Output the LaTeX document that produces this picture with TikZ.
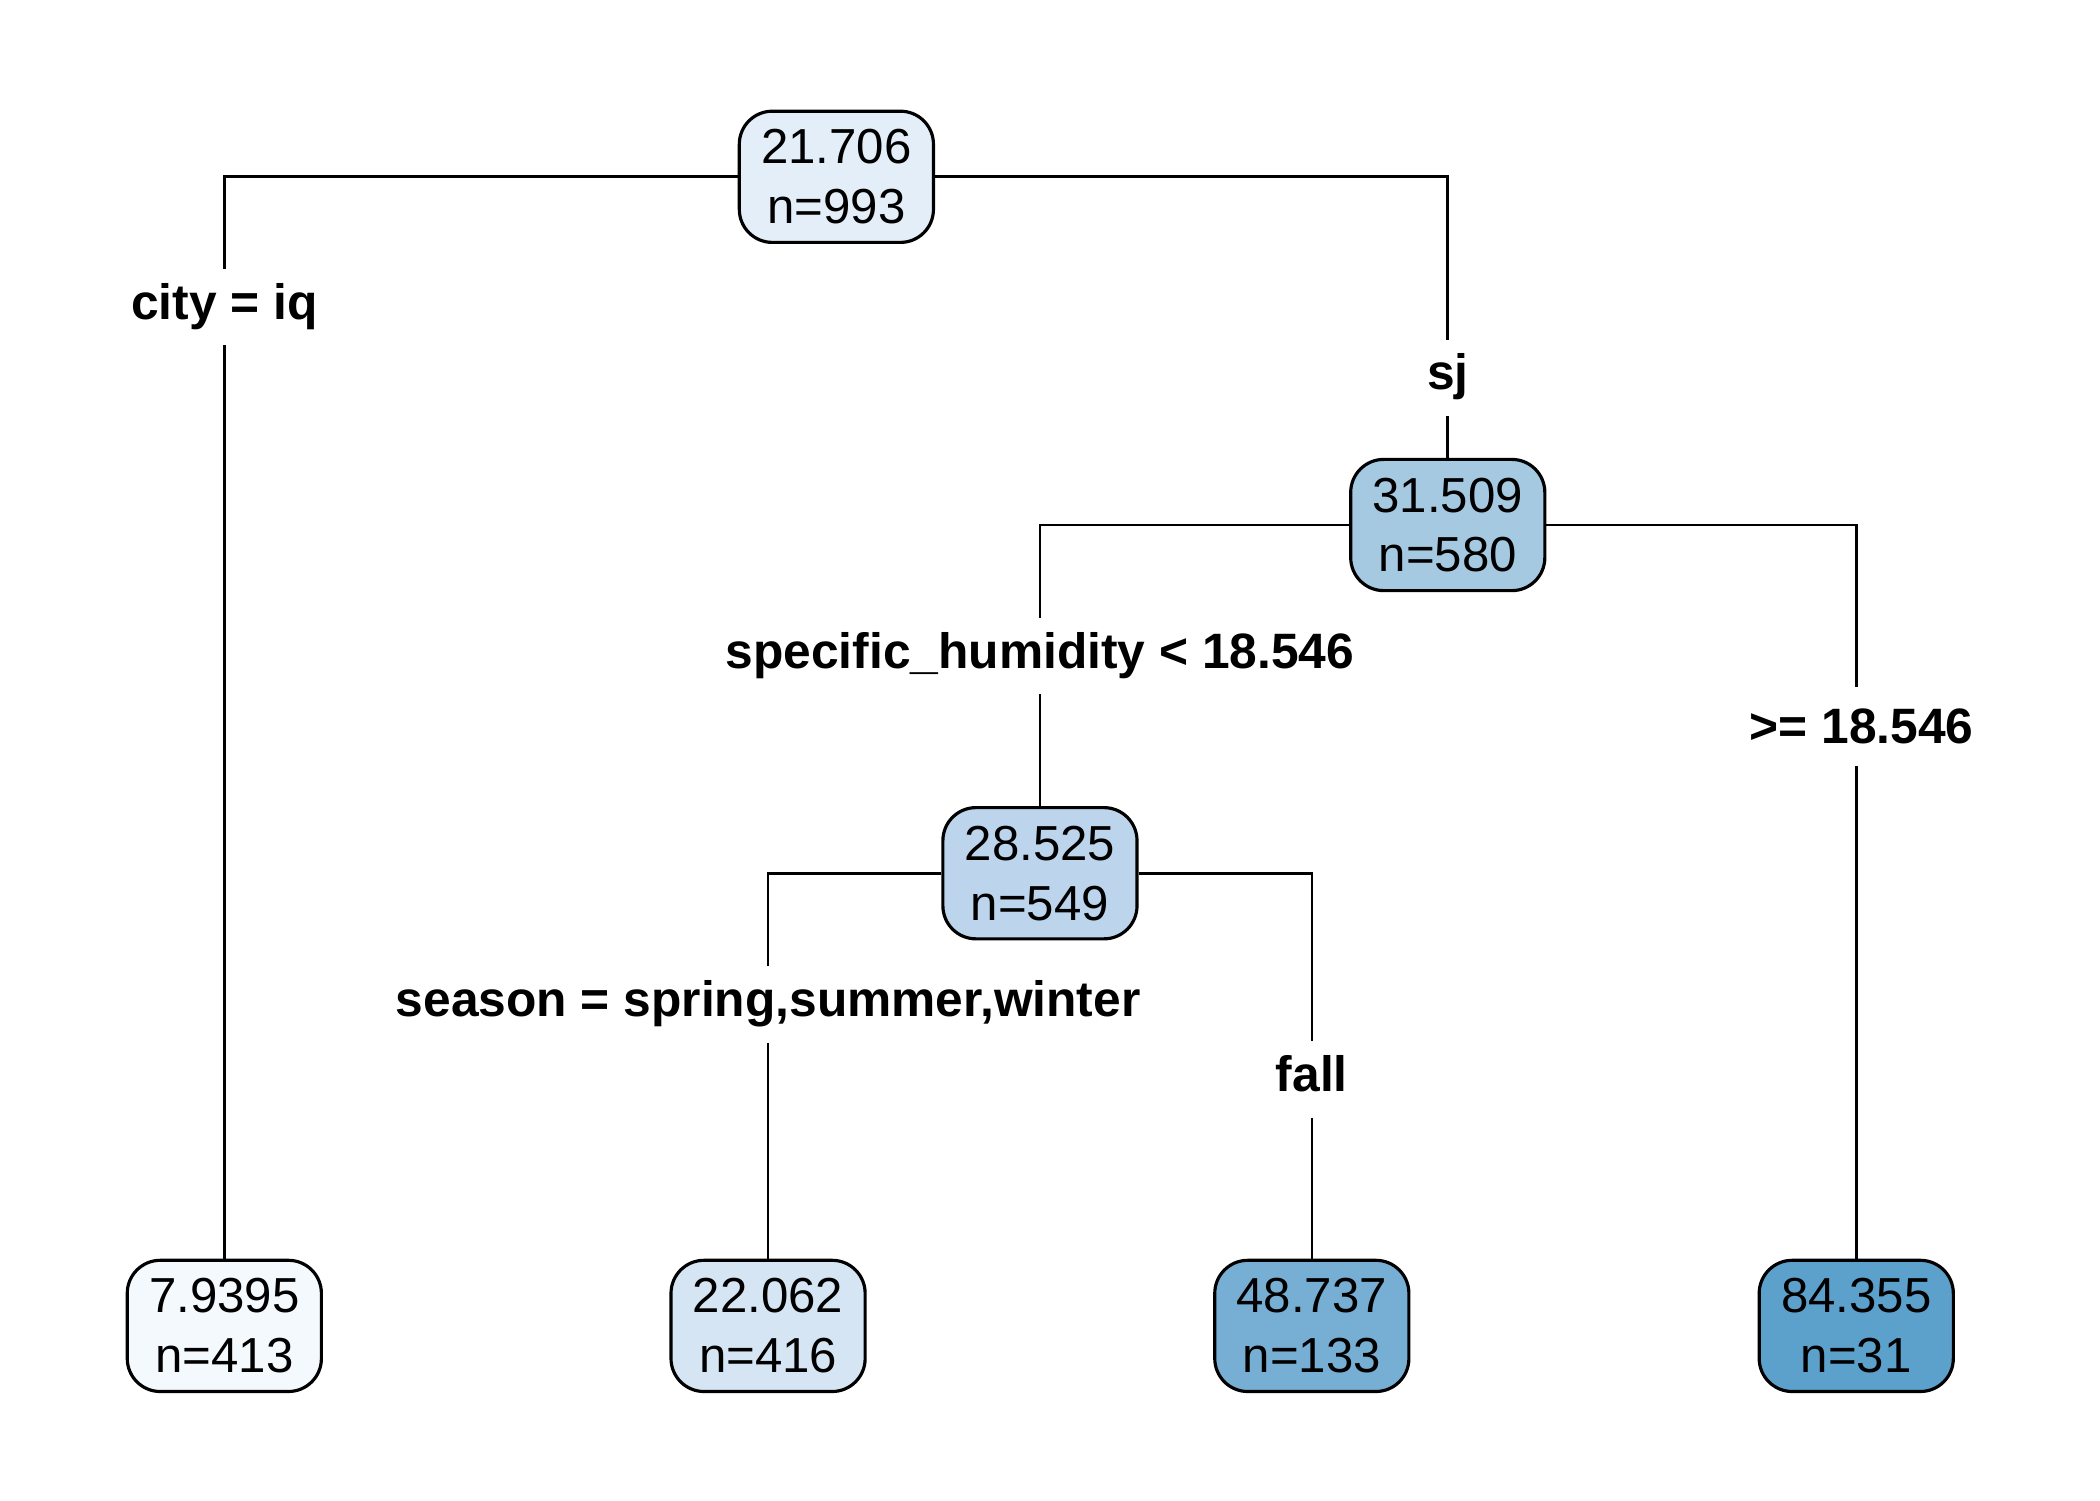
\documentclass[tikz,border=0pt]{standalone}
\usepackage{fontspec}
\setmainfont{Liberation Sans}
\begin{document}
\begin{tikzpicture}[x=0.013393cm,y=-0.013393cm,
  box/.style={draw=black,line width=0.9pt,rounded corners=0.33cm,minimum width=1.942cm,minimum height=1.3125cm,inner sep=0pt,align=center,font=\fontsize{14}{17}\selectfont},
  lab/.style={font=\fontsize{14.15}{17}\selectfont\bfseries,inner sep=0pt,minimum height=0.75cm,text height=10pt,text depth=3pt},
  edge/.style={draw=black,line width=0.75pt}]
\useasboundingbox (0,0) rectangle (1568,1120);
\definecolor{c0}{HTML}{E3EEF9}
\definecolor{c1}{HTML}{A6C9E2}
\definecolor{c2}{HTML}{BCD4EC}
\definecolor{l1}{HTML}{F4F9FE}
\definecolor{l2}{HTML}{D5E5F4}
\definecolor{l3}{HTML}{77AED3}
\definecolor{l4}{HTML}{5CA0CC}
% nodes
\node[box,fill=c0] (root) at (624.5,132) {21.706\\n=993};
\node[box,fill=c1] (n2) at (1081,392) {31.509\\n=580};
\node[box,fill=c2] (n3) at (776.5,652) {28.525\\n=549};
\node[box,fill=l1] (a) at (167.5,990) {7.9395\\n=413};
\node[box,fill=l2] (b) at (573.5,990) {22.062\\n=416};
\node[box,fill=l3] (c) at (979.5,990) {48.737\\n=133};
\node[box,fill=l4] (d) at (1386,990) {84.355\\n=31};
% labels
\node[lab] (la) at (167.5,229) {city = iq};
\node[lab] (lsj) at (1081,282) {sj};
\node[lab] (lsh) at (776.5,490) {specific\_humidity < 18.546};
\node[lab] (lge) at (1390,546) {>= 18.546};
\coordinate (gea) at (1386,513);
\coordinate (geb) at (1386,572);
\node[lab] (lse) at (573.5,750) {season = spring,summer,winter};
\node[lab] (lfa) at (979.5,806) {fall};
% edges
\draw[edge] (root.west) -| (la.north);
\draw[edge] (la.south) -- (a.north);
\draw[edge] (root.east) -| (lsj.north);
\draw[edge] (lsj.south) -- (n2.north);
\draw[edge] (n2.west) -| (lsh.north);
\draw[edge] (lsh.south) -- (n3.north);
\draw[edge] (n2.east) -| (gea);
\draw[edge] (geb) -- (d.north);
\draw[edge] (n3.west) -| (lse.north);
\draw[edge] (lse.south) -- (b.north);
\draw[edge] (n3.east) -| (lfa.north);
\draw[edge] (lfa.south) -- (c.north);
\end{tikzpicture}
\end{document}
